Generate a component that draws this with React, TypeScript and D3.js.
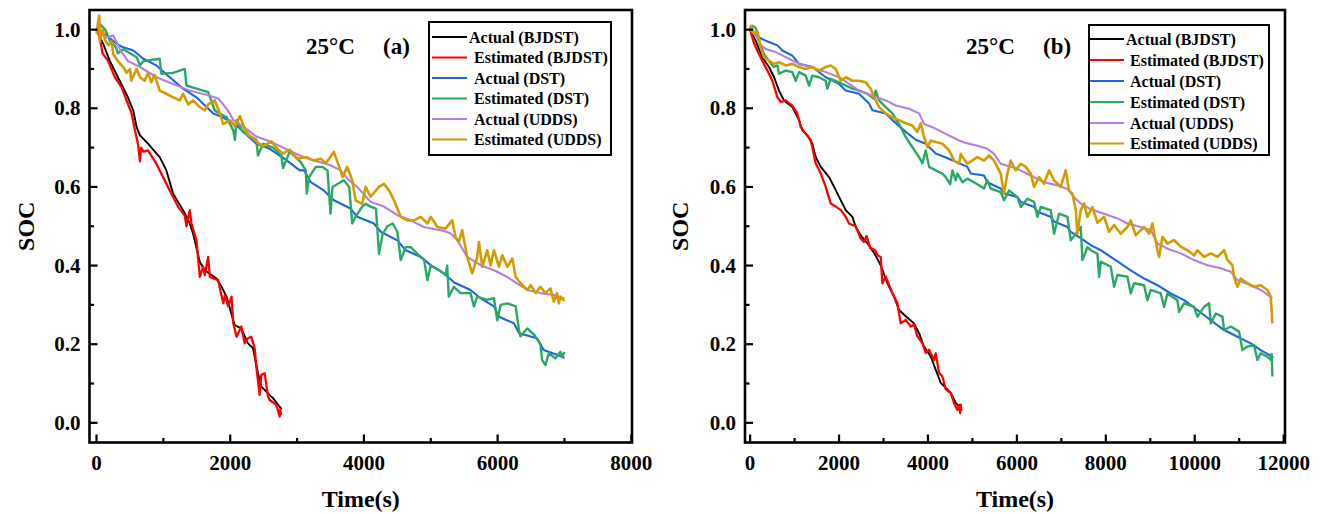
import React from "react";
import * as d3 from "d3";

// ---------- Panel (a) data: [time (s), SOC] ----------
const aActualBJDST: [number, number][] = [[0,1.0],[100,0.964],[200,0.92],[320,0.879],[470,0.828],[550,0.794],[600,0.752],[650,0.731],[770,0.71],[945,0.676],[1045,0.642],[1145,0.583],[1220,0.562],[1295,0.541],[1395,0.507],[1445,0.481],[1545,0.409],[1620,0.388],[1795,0.367],[1870,0.346],[1945,0.321],[2065,0.249],[2165,0.24],[2265,0.202],[2340,0.19],[2415,0.126],[2465,0.092],[2565,0.075],[2640,0.063],[2740,0.041],[2770,0.035]];
const aEstBJDST: [number, number][] = [[0,1.0],[40,0.985],[75,0.955],[90,0.94],[175,0.92],[275,0.879],[375,0.854],[450,0.82],[525,0.787],[575,0.744],[620,0.71],[650,0.665],[665,0.70],[700,0.69],[770,0.693],[895,0.659],[995,0.625],[1095,0.591],[1220,0.55],[1320,0.527],[1345,0.50],[1395,0.541],[1420,0.507],[1495,0.464],[1545,0.371],[1595,0.397],[1620,0.376],[1670,0.422],[1695,0.371],[1820,0.363],[1895,0.304],[1920,0.325],[1970,0.296],[2020,0.321],[2045,0.254],[2095,0.219],[2165,0.245],[2215,0.203],[2265,0.215],[2315,0.219],[2365,0.19],[2390,0.143],[2440,0.071],[2465,0.122],[2515,0.126],[2565,0.067],[2590,0.058],[2690,0.046],[2740,0.016],[2750,0.035],[2760,0.02]];
const aActualDST: [number, number][] = [[0,1.0],[150,0.985],[300,0.964],[400,0.955],[550,0.947],[700,0.926],[895,0.909],[1095,0.879],[1295,0.85],[1495,0.828],[1745,0.787],[1890,0.777],[2095,0.756],[2390,0.71],[2590,0.697],[2840,0.668],[3040,0.642],[3105,0.642],[3205,0.612],[3400,0.591],[3550,0.566],[3800,0.545],[3900,0.524],[4150,0.507],[4250,0.486],[4500,0.464],[4625,0.439],[4850,0.422],[5000,0.401],[5200,0.38],[5350,0.357],[5595,0.338],[5745,0.317],[5945,0.296],[6020,0.27],[6245,0.253],[6320,0.228],[6590,0.215],[6690,0.185],[6965,0.168],[7000,0.165]];
const aEstDST: [number, number][] = [[0,1.0],[50,1.014],[130,1.0],[200,0.972],[290,0.955],[320,0.94],[400,0.95],[600,0.93],[650,0.909],[700,0.92],[945,0.926],[970,0.888],[1145,0.89],[1320,0.90],[1345,0.858],[1495,0.85],[1670,0.841],[1695,0.83],[1770,0.794],[1945,0.777],[2045,0.744],[2070,0.72],[2095,0.77],[2190,0.74],[2390,0.72],[2415,0.68],[2490,0.71],[2640,0.70],[2765,0.68],[2790,0.648],[2890,0.69],[3055,0.663],[3130,0.642],[3145,0.583],[3180,0.625],[3280,0.651],[3380,0.651],[3455,0.642],[3500,0.532],[3530,0.60],[3630,0.61],[3700,0.617],[3780,0.60],[3825,0.507],[3875,0.524],[3975,0.55],[4025,0.557],[4100,0.55],[4180,0.545],[4225,0.43],[4280,0.48],[4350,0.50],[4430,0.507],[4500,0.486],[4550,0.414],[4625,0.447],[4700,0.447],[4800,0.43],[4900,0.414],[4950,0.363],[5000,0.40],[5125,0.388],[5225,0.376],[5245,0.40],[5270,0.321],[5345,0.346],[5445,0.33],[5595,0.33],[5645,0.296],[5695,0.321],[5845,0.313],[5945,0.317],[5995,0.261],[6045,0.30],[6145,0.304],[6270,0.296],[6320,0.236],[6340,0.22],[6445,0.24],[6545,0.224],[6640,0.20],[6665,0.16],[6715,0.147],[6765,0.177],[6865,0.164],[6940,0.181],[6965,0.168],[7000,0.18]];
const aActualUDDS: [number, number][] = [[0,1.0],[50,0.997],[150,0.98],[250,0.985],[350,0.95],[470,0.92],[650,0.905],[895,0.879],[1145,0.862],[1395,0.845],[1695,0.832],[1820,0.825],[1895,0.81],[1995,0.787],[2045,0.77],[2190,0.754],[2390,0.728],[2590,0.716],[2790,0.70],[3040,0.68],[3205,0.67],[3500,0.655],[3650,0.642],[3775,0.617],[3900,0.60],[4100,0.562],[4300,0.55],[4500,0.528],[4700,0.515],[4895,0.498],[5200,0.488],[5295,0.482],[5395,0.465],[5545,0.422],[5745,0.401],[5945,0.388],[6145,0.371],[6290,0.355],[6445,0.338],[6640,0.33],[6840,0.325],[6965,0.317],[7000,0.318]];
const aEstUDDS: [number, number][] = [[0,0.99],[40,1.036],[50,0.97],[90,1.0],[125,0.975],[175,0.96],[225,0.97],[250,0.938],[320,0.92],[400,0.905],[450,0.89],[500,0.90],[520,0.87],[600,0.90],[650,0.879],[720,0.87],[770,0.89],[820,0.866],[870,0.885],[945,0.845],[1045,0.837],[1145,0.828],[1245,0.82],[1295,0.837],[1370,0.81],[1445,0.82],[1545,0.803],[1620,0.795],[1670,0.81],[1770,0.82],[1845,0.787],[1895,0.76],[1995,0.77],[2070,0.754],[2145,0.78],[2220,0.745],[2290,0.73],[2390,0.716],[2490,0.703],[2615,0.716],[2715,0.695],[2790,0.685],[2890,0.695],[3005,0.672],[3130,0.676],[3255,0.667],[3355,0.672],[3430,0.66],[3550,0.689],[3630,0.651],[3680,0.625],[3750,0.651],[3825,0.617],[3875,0.566],[3975,0.557],[4025,0.60],[4100,0.575],[4225,0.60],[4300,0.608],[4380,0.59],[4450,0.566],[4550,0.524],[4650,0.515],[4750,0.515],[4850,0.524],[4950,0.507],[5000,0.524],[5100,0.498],[5220,0.494],[5320,0.515],[5370,0.473],[5420,0.46],[5470,0.49],[5545,0.422],[5620,0.38],[5695,0.422],[5720,0.46],[5770,0.397],[5845,0.439],[5895,0.40],[5945,0.439],[6020,0.397],[6070,0.426],[6145,0.397],[6220,0.418],[6270,0.371],[6345,0.355],[6445,0.338],[6495,0.35],[6570,0.33],[6640,0.346],[6715,0.33],[6790,0.342],[6840,0.308],[6890,0.33],[6915,0.304],[6940,0.321],[7000,0.31]];

// ---------- Panel (b) data ----------
const bActualBJDST: [number, number][] = [[0,1.0],[125,0.972],[275,0.93],[425,0.905],[540,0.879],[650,0.845],[760,0.82],[950,0.803],[1100,0.77],[1175,0.744],[1290,0.731],[1400,0.71],[1475,0.676],[1590,0.651],[1775,0.625],[1890,0.60],[2040,0.566],[2150,0.541],[2300,0.524],[2375,0.498],[2500,0.475],[2650,0.455],[2800,0.43],[2940,0.40],[3088,0.355],[3237,0.321],[3350,0.287],[3500,0.271],[3687,0.253],[3800,0.228],[3911,0.194],[4062,0.169],[4175,0.135],[4287,0.102],[4400,0.089],[4512,0.076],[4625,0.051],[4737,0.038]];
const bEstBJDST: [number, number][] = [[0,1.0],[90,0.965],[200,0.938],[312,0.913],[425,0.888],[500,0.87],[615,0.828],[690,0.816],[800,0.82],[950,0.807],[1062,0.787],[1140,0.752],[1250,0.735],[1362,0.72],[1475,0.66],[1590,0.634],[1700,0.60],[1812,0.558],[1925,0.55],[2040,0.541],[2150,0.524],[2225,0.507],[2375,0.50],[2480,0.47],[2560,0.46],[2620,0.475],[2700,0.445],[2800,0.44],[2880,0.425],[2937,0.422],[2975,0.355],[3050,0.372],[3200,0.33],[3312,0.304],[3387,0.253],[3500,0.262],[3612,0.245],[3687,0.25],[3762,0.22],[3875,0.203],[3950,0.178],[4025,0.186],[4137,0.16],[4175,0.177],[4250,0.127],[4325,0.118],[4400,0.085],[4512,0.076],[4587,0.05],[4662,0.033],[4700,0.045],[4725,0.025],[4737,0.046],[4750,0.03]];
const bActualDST: [number, number][] = [[0,1.0],[200,0.98],[350,0.972],[615,0.96],[725,0.947],[950,0.934],[1100,0.913],[1400,0.905],[1700,0.879],[2000,0.862],[2150,0.845],[2450,0.837],[2675,0.812],[2750,0.795],[3050,0.787],[3200,0.77],[3500,0.74],[3725,0.72],[3950,0.71],[4175,0.685],[4400,0.675],[4625,0.664],[4887,0.651],[4962,0.634],[5260,0.629],[5335,0.612],[5636,0.596],[5711,0.584],[6012,0.574],[6087,0.562],[6386,0.549],[6461,0.537],[6761,0.524],[6836,0.512],[7137,0.498],[7212,0.486],[7510,0.464],[7661,0.452],[7886,0.439],[8111,0.422],[8336,0.405],[8561,0.388],[8861,0.367],[9161,0.35],[9460,0.329],[9760,0.312],[10061,0.287],[10360,0.261],[10659,0.236],[10960,0.219],[11259,0.202],[11484,0.185],[11747,0.168],[11760,0.165]];
const bEstDST: [number, number][] = [[0,1.0],[50,1.01],[125,1.005],[200,0.972],[312,0.938],[425,0.92],[537,0.905],[615,0.909],[650,0.888],[800,0.896],[950,0.892],[1025,0.87],[1100,0.892],[1250,0.883],[1325,0.858],[1400,0.883],[1550,0.879],[1700,0.87],[1737,0.85],[1812,0.875],[2000,0.866],[2150,0.858],[2300,0.85],[2450,0.845],[2637,0.837],[2787,0.824],[2825,0.845],[2900,0.82],[3050,0.803],[3200,0.787],[3350,0.76],[3500,0.727],[3650,0.701],[3800,0.676],[3875,0.66],[3950,0.693],[4025,0.651],[4175,0.642],[4325,0.634],[4400,0.625],[4500,0.607],[4550,0.642],[4625,0.617],[4662,0.634],[4775,0.612],[4887,0.621],[5112,0.607],[5260,0.596],[5335,0.617],[5411,0.596],[5636,0.587],[5711,0.566],[5823,0.591],[6012,0.574],[6087,0.549],[6236,0.57],[6386,0.562],[6461,0.524],[6536,0.549],[6761,0.541],[6836,0.481],[6948,0.532],[7137,0.524],[7212,0.464],[7324,0.481],[7436,0.498],[7474,0.414],[7586,0.447],[7661,0.439],[7811,0.43],[7850,0.371],[7886,0.41],[8111,0.397],[8186,0.346],[8261,0.376],[8486,0.372],[8561,0.329],[8636,0.355],[8861,0.35],[8936,0.312],[9011,0.338],[9236,0.329],[9311,0.295],[9386,0.329],[9610,0.312],[9648,0.282],[9760,0.304],[9985,0.295],[10061,0.27],[10210,0.295],[10323,0.304],[10360,0.253],[10473,0.278],[10623,0.27],[10660,0.236],[10810,0.245],[10997,0.232],[11072,0.185],[11184,0.194],[11334,0.198],[11409,0.16],[11484,0.177],[11634,0.168],[11709,0.16],[11730,0.175],[11747,0.118]];
const bActualUDDS: [number, number][] = [[0,1.0],[160,0.98],[235,0.96],[350,0.951],[575,0.943],[800,0.93],[1025,0.917],[1250,0.909],[1475,0.90],[1700,0.892],[2000,0.879],[2225,0.862],[2450,0.845],[2750,0.832],[3050,0.82],[3275,0.807],[3575,0.799],[3800,0.787],[3912,0.76],[4100,0.752],[4400,0.735],[4700,0.718],[4850,0.712],[5112,0.705],[5336,0.697],[5486,0.684],[5636,0.659],[6012,0.646],[6311,0.629],[6611,0.612],[6911,0.604],[7137,0.595],[7286,0.574],[7436,0.558],[7661,0.543],[7961,0.532],[8262,0.52],[8487,0.507],[8786,0.498],[9012,0.49],[9161,0.456],[9386,0.443],[9685,0.431],[9985,0.414],[10285,0.401],[10585,0.393],[10810,0.384],[10960,0.363],[11259,0.35],[11484,0.338],[11747,0.317]];
const bEstUDDS: [number, number][] = [[0,1.0],[15,1.01],[90,0.99],[165,0.995],[235,0.955],[310,0.93],[425,0.921],[537,0.913],[650,0.917],[800,0.909],[950,0.913],[1100,0.905],[1250,0.90],[1400,0.905],[1550,0.896],[1700,0.905],[1812,0.909],[1925,0.90],[2037,0.87],[2150,0.879],[2300,0.87],[2450,0.87],[2600,0.866],[2712,0.85],[2825,0.82],[2900,0.803],[3050,0.787],[3200,0.777],[3350,0.77],[3500,0.762],[3650,0.756],[3762,0.74],[3837,0.762],[3912,0.727],[3987,0.701],[4062,0.718],[4175,0.714],[4325,0.71],[4475,0.693],[4587,0.667],[4700,0.659],[4737,0.684],[4775,0.676],[4887,0.659],[5112,0.676],[5260,0.667],[5373,0.68],[5486,0.667],[5636,0.634],[5711,0.583],[5786,0.634],[5861,0.667],[5973,0.642],[6087,0.659],[6199,0.651],[6311,0.634],[6386,0.60],[6498,0.625],[6611,0.608],[6723,0.642],[6836,0.617],[6986,0.60],[7099,0.642],[7174,0.591],[7249,0.583],[7324,0.541],[7361,0.481],[7436,0.541],[7511,0.558],[7586,0.524],[7698,0.549],[7811,0.509],[7961,0.524],[8074,0.486],[8186,0.503],[8336,0.481],[8486,0.498],[8561,0.515],[8673,0.477],[8786,0.49],[8861,0.498],[8974,0.481],[9049,0.507],[9161,0.439],[9198,0.422],[9273,0.473],[9386,0.456],[9535,0.465],[9685,0.448],[9835,0.439],[9985,0.426],[10060,0.439],[10210,0.422],[10360,0.431],[10510,0.422],[10660,0.439],[10735,0.414],[10847,0.401],[10885,0.371],[10960,0.346],[11034,0.367],[11184,0.355],[11334,0.346],[11484,0.35],[11634,0.338],[11709,0.321],[11747,0.253]];

// ---------- labels / ticks ----------
const seriesNames = ["Actual (BJDST)", "Estimated (BJDST)", "Actual (DST)", "Estimated (DST)", "Actual (UDDS)", "Estimated (UDDS)"];
const seriesColors = ["#000000", "#ff0000", "#1a68e0", "#2aa866", "#b57ee6", "#d49c00"];
const seriesWidths = [1.9, 2.3, 2.1, 2.4, 2.1, 2.6];
const yTicksMajor = [0, 0.2, 0.4, 0.6, 0.8, 1.0];
const yTicksMinor = [0.1, 0.3, 0.5, 0.7, 0.9];
const aXTicksMajor = [0, 2000, 4000, 6000, 8000];
const aXTicksMinor = [1000, 3000, 5000, 7000];
const bXTicksMajor = [0, 2000, 4000, 6000, 8000, 10000, 12000];
const bXTicksMinor = [1000, 3000, 5000, 7000, 9000, 11000];

const FONT = "'Liberation Serif', 'Times New Roman', serif";

type PanelCfg = {
  left: number; right: number; top: number; bottom: number;
  xDomain: [number, number];
  xMajor: number[]; xMinor: number[];
  series: [number, number][][];
  legend: { x: number; y: number; w: number; h: number; rows: number[]; lx1: number; lx2: number; tx0: number; tx: number };
  label: string; ann: { x1: number; x2: number; y: number };
  socX: number;
};

function Panel({ c }: { c: PanelCfg }) {
  const x = d3.scaleLinear().domain(c.xDomain).range([c.left, c.right]);
  const y = d3.scaleLinear().domain([-0.05, 1.05]).range([c.bottom, c.top]);
  const line = d3.line<[number, number]>().x(d => x(d[0])).y(d => y(d[1])).curve(d3.curveLinear);
  const cx = (c.left + c.right) / 2;
  const cy = (c.top + c.bottom) / 2;
  const L = c.legend;
  return (
    <g>
      <g>
        {c.series.map((s, i) => (
          <path key={i} d={line(s) || ""} fill="none" stroke={seriesColors[i]} strokeWidth={seriesWidths[i]} strokeLinejoin="round" />
        ))}
      </g>
      {c.xMajor.map(t => (
        <line key={"xM" + t} x1={x(t)} x2={x(t)} y1={c.bottom} y2={c.bottom - 8} stroke="#000" strokeWidth={2.2} />
      ))}
      {c.xMinor.map(t => (
        <line key={"xm" + t} x1={x(t)} x2={x(t)} y1={c.bottom} y2={c.bottom - 4.5} stroke="#000" strokeWidth={2.2} />
      ))}
      {yTicksMajor.map(t => (
        <line key={"yM" + t} x1={c.left} x2={c.left + 8} y1={y(t)} y2={y(t)} stroke="#000" strokeWidth={2.2} />
      ))}
      {yTicksMinor.map(t => (
        <line key={"ym" + t} x1={c.left} x2={c.left + 4.5} y1={y(t)} y2={y(t)} stroke="#000" strokeWidth={2.2} />
      ))}
      <rect x={c.left} y={c.top} width={c.right - c.left} height={c.bottom - c.top} fill="none" stroke="#000" strokeWidth={2.6} />
      {c.xMajor.map(t => (
        <text key={"xl" + t} x={x(t)} y={c.bottom + 27} textAnchor="middle" fontFamily={FONT} fontWeight="bold" fontSize={21}>{t}</text>
      ))}
      {yTicksMajor.map(t => (
        <text key={"yl" + t} x={c.left - 9} y={y(t) + 7} textAnchor="end" fontFamily={FONT} fontWeight="bold" fontSize={21}>{t.toFixed(1)}</text>
      ))}
      <text x={cx} y={c.bottom + 64} textAnchor="middle" fontFamily={FONT} fontWeight="bold" fontSize={24}>Time(s)</text>
      <text transform={`translate(${c.socX},${cy}) rotate(-90)`} textAnchor="middle" fontFamily={FONT} fontWeight="bold" fontSize={24}>SOC</text>
      <text x={c.ann.x1} y={c.ann.y} fontFamily={FONT} fontWeight="bold" fontSize={23}>25°C</text>
      <text x={c.ann.x2} y={c.ann.y} fontFamily={FONT} fontWeight="bold" fontSize={23}>{c.label}</text>
      <rect x={L.x} y={L.y} width={L.w} height={L.h} fill="#fff" stroke="#000" strokeWidth={2} />
      {seriesNames.map((n, i) => (
        <g key={n}>
          <line x1={L.lx1} x2={L.lx2} y1={L.rows[i]} y2={L.rows[i]} stroke={seriesColors[i]} strokeWidth={2.2} />
          <text x={i === 0 ? L.tx0 : L.tx} y={L.rows[i] + 5.5} fontFamily={FONT} fontWeight="bold" fontSize={16}>{n}</text>
        </g>
      ))}
    </g>
  );
}

const panelA: PanelCfg = {
  left: 89.5, right: 632, top: 10, bottom: 442.5,
  xDomain: [-105, 8010], xMajor: aXTicksMajor, xMinor: aXTicksMinor,
  series: [aActualBJDST, aEstBJDST, aActualDST, aEstDST, aActualUDDS, aEstUDDS],
  legend: { x: 429, y: 22, w: 182, h: 133, rows: [37, 57.5, 78, 98.5, 119, 139.5], lx1: 432, lx2: 467, tx0: 469, tx: 474 },
  label: "(a)", ann: { x1: 306, x2: 383, y: 54 }, socX: 34,
};
const panelB: PanelCfg = {
  left: 745, right: 1285, top: 10, bottom: 442.5,
  xDomain: [-115, 12030], xMajor: bXTicksMajor, xMinor: bXTicksMinor,
  series: [bActualBJDST, bEstBJDST, bActualDST, bEstDST, bActualUDDS, bEstUDDS],
  legend: { x: 1089, y: 25, w: 180, h: 130, rows: [39, 60, 81, 102, 123, 143.5], lx1: 1090, lx2: 1124, tx0: 1126, tx: 1130 },
  label: "(b)", ann: { x1: 966, x2: 1043, y: 54 }, socX: 688,
};

export default function App() {
  return (
    <svg width={1322} height={515} style={{ position: "absolute", left: 0, top: 0, background: "#fff" }}>
      <rect x={0} y={0} width={1322} height={515} fill="#fff" />
      <Panel c={panelA} />
      <Panel c={panelB} />
    </svg>
  );
}
